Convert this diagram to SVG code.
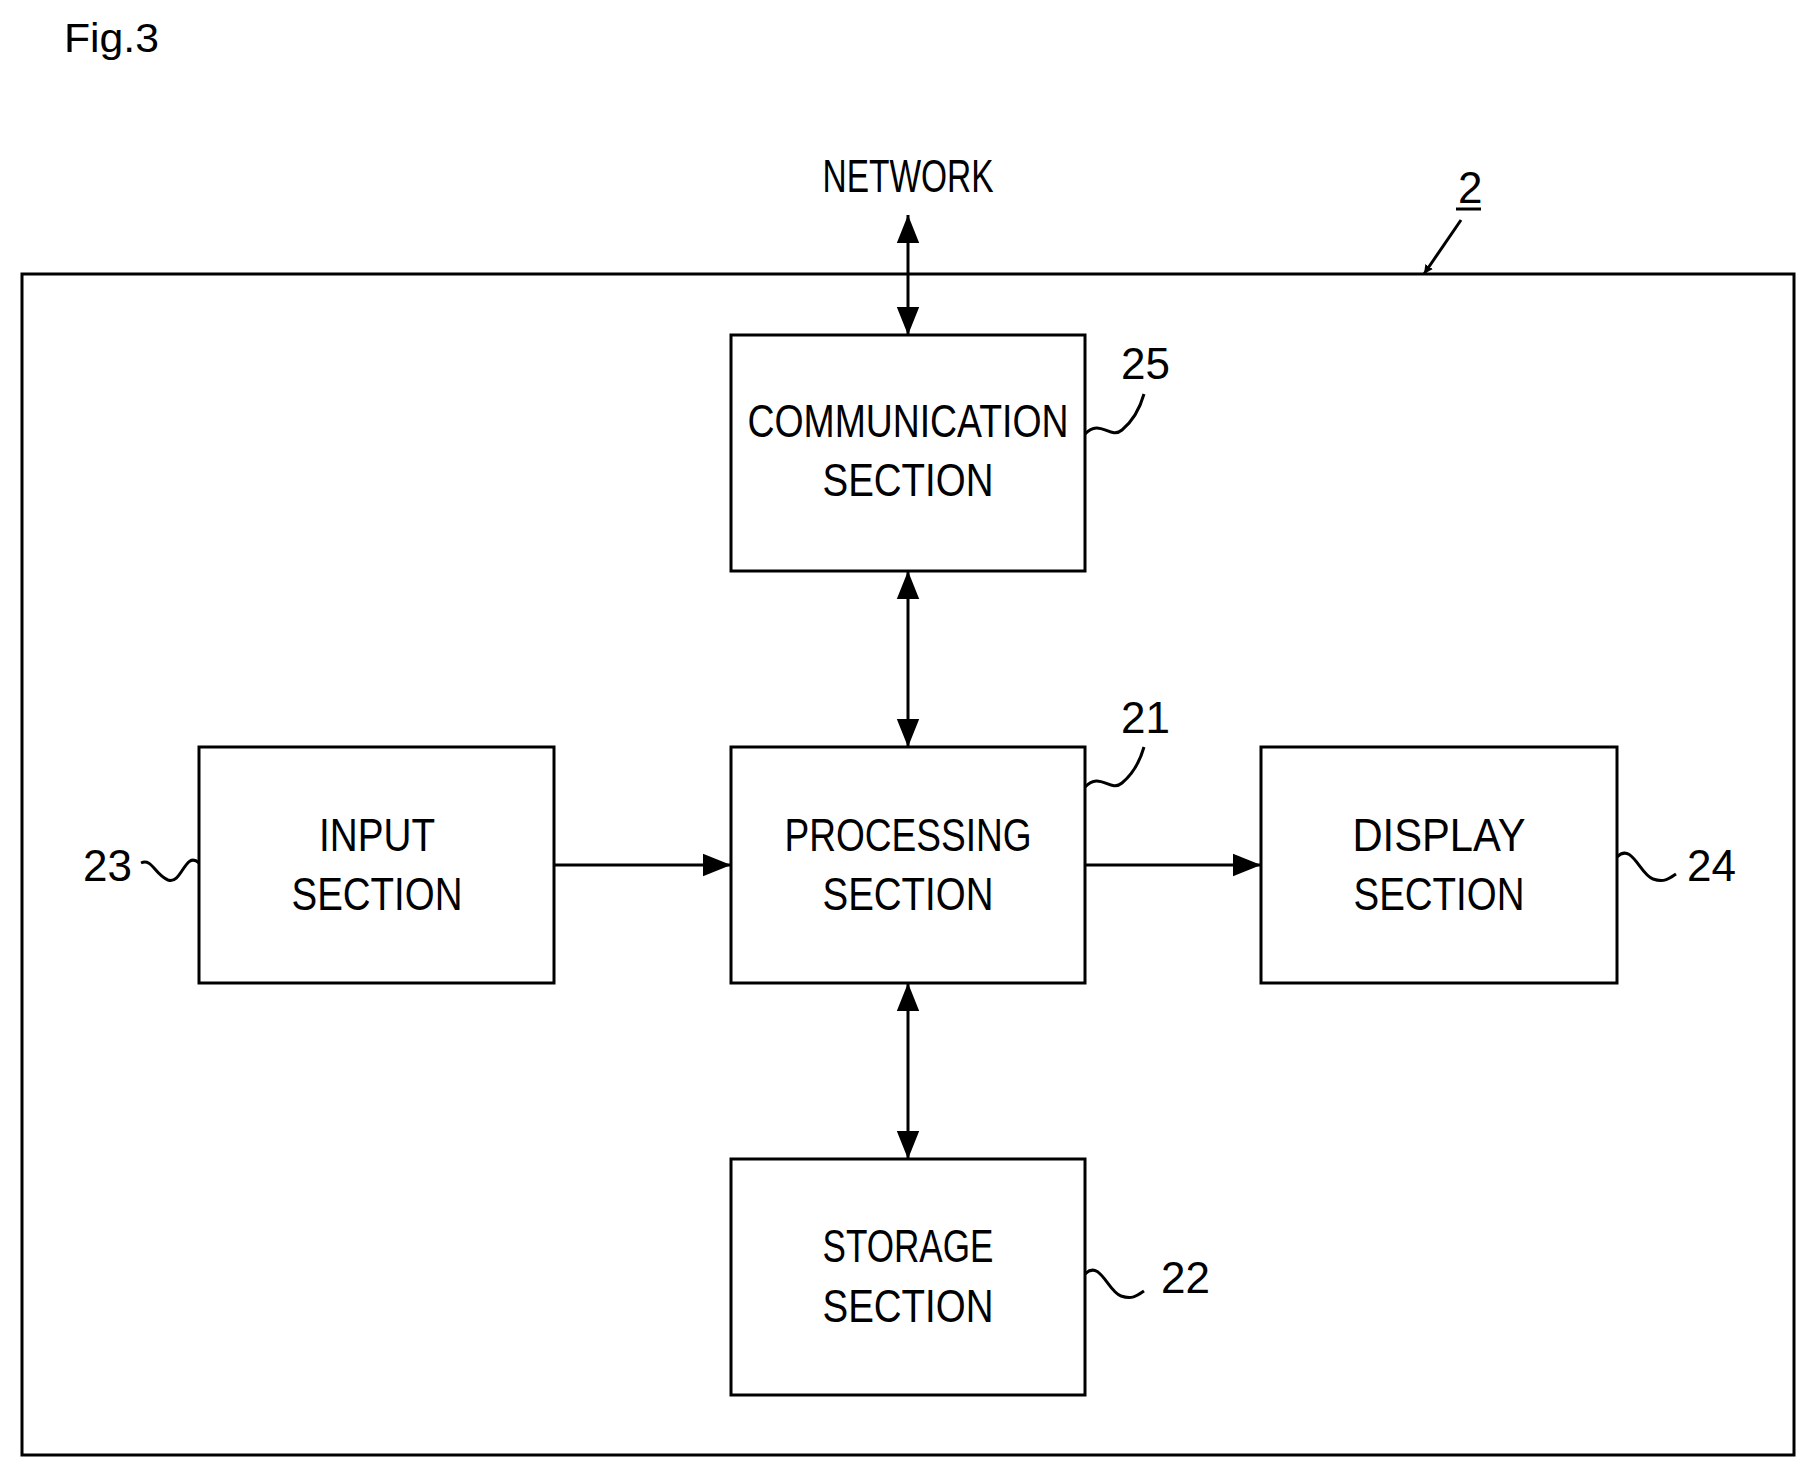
<svg xmlns="http://www.w3.org/2000/svg" width="1816" height="1478" viewBox="0 0 1816 1478">
<style>
.b{fill:none;stroke:#000;stroke-width:3}
.t{font-family:"Liberation Sans",Arial,sans-serif;font-size:46px;text-anchor:middle;fill:#000}
.n{font-family:"Liberation Sans",Arial,sans-serif;font-size:44px;fill:#000}
.c{fill:none;stroke:#000;stroke-width:3}
</style>
<defs>
<marker id="a" viewBox="0 0 10 10" refX="10" refY="5" markerWidth="9" markerHeight="9" markerUnits="userSpaceOnUse" orient="auto-start-reverse"><path d="M0,0L10,5L0,10z"/></marker>
<marker id="ah" viewBox="0 0 10 10" refX="10" refY="5" markerWidth="28" markerHeight="28" markerUnits="userSpaceOnUse" orient="auto-start-reverse"><path d="M0,1L10,5L0,9z"/></marker>
</defs>
<rect width="1816" height="1478" fill="#fff"/>
<text x="64" y="52" font-family="Liberation Sans,Arial,sans-serif" font-size="40" textLength="95" lengthAdjust="spacingAndGlyphs">Fig.3</text>
<text class="t" x="908" y="192" textLength="171" lengthAdjust="spacingAndGlyphs">NETWORK</text>
<g id="device"><rect class="b" x="22" y="274" width="1772" height="1181"/>
<text class="n" x="1458" y="203">2</text><line x1="1456" y1="209" x2="1481" y2="209" stroke="#000" stroke-width="3"/></g>
<g id="comm"><rect class="b" x="731" y="335" width="354" height="236"/>
<text class="t" x="908" y="437" textLength="321" lengthAdjust="spacingAndGlyphs">COMMUNICATION</text>
<text class="t" x="908" y="496" textLength="171" lengthAdjust="spacingAndGlyphs">SECTION</text>
<text class="n" x="1121" y="379">25</text></g>
<g id="proc"><rect class="b" x="731" y="747" width="354" height="236"/>
<text class="t" x="908" y="851" textLength="247" lengthAdjust="spacingAndGlyphs">PROCESSING</text>
<text class="t" x="908" y="910" textLength="171" lengthAdjust="spacingAndGlyphs">SECTION</text>
<text class="n" x="1121" y="733">21</text></g>
<g id="input"><rect class="b" x="199" y="747" width="355" height="236"/>
<text class="t" x="377" y="851" textLength="116" lengthAdjust="spacingAndGlyphs">INPUT</text>
<text class="t" x="377" y="910" textLength="171" lengthAdjust="spacingAndGlyphs">SECTION</text>
<text class="n" x="83" y="881">23</text></g>
<g id="display"><rect class="b" x="1261" y="747" width="356" height="236"/>
<text class="t" x="1439" y="851" textLength="173" lengthAdjust="spacingAndGlyphs">DISPLAY</text>
<text class="t" x="1439" y="910" textLength="171" lengthAdjust="spacingAndGlyphs">SECTION</text>
<text class="n" x="1687" y="881">24</text></g>
<g id="storage"><rect class="b" x="731" y="1159" width="354" height="236"/>
<text class="t" x="908" y="1262" textLength="171" lengthAdjust="spacingAndGlyphs">STORAGE</text>
<text class="t" x="908" y="1322" textLength="171" lengthAdjust="spacingAndGlyphs">SECTION</text>
<text class="n" x="1161" y="1293">22</text></g>
<g id="connectors">
<line class="c" x1="908" y1="215" x2="908" y2="335" marker-start="url(#ah)" marker-end="url(#ah)"/>
<line class="c" x1="908" y1="571" x2="908" y2="747" marker-start="url(#ah)" marker-end="url(#ah)"/>
<line class="c" x1="908" y1="983" x2="908" y2="1159" marker-start="url(#ah)" marker-end="url(#ah)"/>
<line class="c" x1="554" y1="865" x2="731" y2="865" marker-end="url(#ah)"/>
<line class="c" x1="1085" y1="865" x2="1261" y2="865" marker-end="url(#ah)"/>
<line class="c" x1="1461" y1="220" x2="1424" y2="274" marker-end="url(#a)" stroke-width="2.5"/>
<path class="c" stroke-width="2.5" d="M1085,434 C1100,418 1110,440 1122,430 C1134,420 1140,408 1144,394"/>
<path class="c" stroke-width="2.5" d="M1085,787 C1100,771 1110,793 1122,783 C1134,773 1140,761 1144,747"/>
<path class="c" stroke-width="2.5" d="M199,863 C185,850 182,885 168,880 C155,875 152,858 141,863"/>
<path class="c" stroke-width="2.5" d="M1617,857 C1632,842 1640,875 1653,879 C1665,883 1670,878 1676,874"/>
<path class="c" stroke-width="2.5" d="M1085,1274 C1100,1259 1108,1292 1121,1296 C1133,1300 1138,1295 1144,1291"/>
</g>
</svg>
